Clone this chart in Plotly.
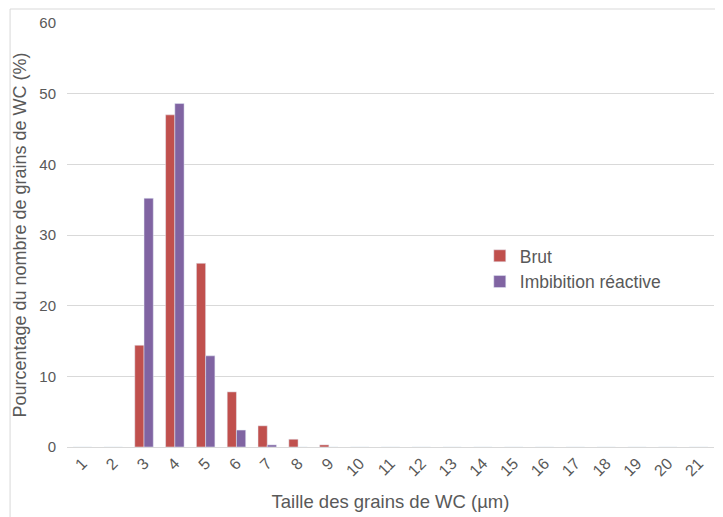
import plotly.graph_objects as go

categories = [str(i) for i in range(1, 22)]
brut = [0, 0, 14.4, 47.0, 26.0, 7.8, 3.0, 1.1, 0.3] + [0] * 12
imbibition = [0, 0, 35.2, 48.6, 12.9, 2.4, 0.3, 0, 0] + [0] * 12
y_ticks = [0, 10, 20, 30, 40, 50, 60]

font_family = "Liberation Sans, Arial, sans-serif"
gray = "#595959"

fig = go.Figure()
fig.add_trace(go.Bar(x=categories, y=brut, name="Brut", marker_color="#C0504D"))
fig.add_trace(go.Bar(x=categories, y=imbibition, name="Imbibition réactive", marker_color="#8064A2"))

fig.update_layout(
    width=723, height=517,
    margin=dict(l=59, r=17, t=15, b=78),
    paper_bgcolor="white", plot_bgcolor="white",
    barmode="group", bargap=0.4, bargroupgap=0,
    font=dict(family=font_family, color=gray, size=15),
    legend=dict(x=0.638, y=0.42, xanchor="left", yanchor="middle",
                font=dict(size=17.5, color=gray), bgcolor="rgba(0,0,0,0)",
                itemwidth=30),
    xaxis=dict(
        type="category", tickangle=-45, showgrid=False, showline=False,
        ticks="", tickfont=dict(size=16, color=gray), automargin=False,
        ticklabelstandoff=3,
        title=dict(text="Taille des grains de WC (µm)", font=dict(size=18.5, color=gray), standoff=16),
    ),
    yaxis=dict(
        range=[0, 60], tickvals=y_ticks, showgrid=True, gridcolor="#D9D9D9",
        gridwidth=1, zeroline=True, zerolinecolor="#D9D9D9", zerolinewidth=1,
        showline=False, ticks="", ticklabelstandoff=10, automargin=False,
        tickfont=dict(size=15, color=gray),
        title=dict(text="Pourcentage du nombre de grains de WC (%)", font=dict(size=18, color=gray), standoff=8),
    ),
    shapes=[dict(type="rect", xref="paper", yref="paper",
                 x0=-0.088, x1=1.2, y0=-0.5, y1=1.033,
                 line=dict(color="#D9D9D9", width=1), layer="below")],
)

fig.write_html("out.html")
